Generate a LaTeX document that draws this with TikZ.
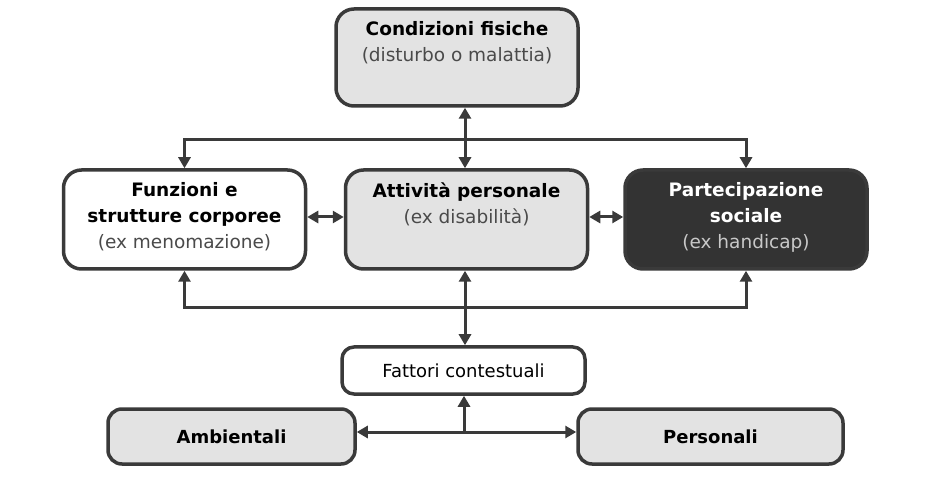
\documentclass[tikz,border=0pt]{standalone}
\usepackage{fontspec}
\setmainfont{DejaVu Sans}
\usetikzlibrary{arrows.meta}
\definecolor{lightbox}{HTML}{E3E3E3}
\definecolor{darkbox}{HTML}{333333}
\definecolor{edgecol}{HTML}{3A3A3A}
\definecolor{subtext}{HTML}{4A4A4A}
\definecolor{darksub}{HTML}{C8C8C8}
\begin{document}
\begin{tikzpicture}[x=1pt,y=-1pt,
  box/.style={draw=edgecol, line width=3.5pt, rounded corners=18pt, inner sep=0pt},
  bigbox/.style={box, minimum width=242pt, minimum height=99pt},
  lowbox/.style={box, rounded corners=14pt, minimum height=55pt, font=\fontsize{18}{26}\selectfont\bfseries},
  txt/.style={anchor=north, inner sep=0pt, align=center, font=\fontsize{18.5}{26}\selectfont},
  link/.style={draw=edgecol, line width=3pt},
  tip/.tip={Triangle[length=11pt,width=12pt]}
]
\fill[white] (0,0) rectangle (932,478);
\useasboundingbox (0,0) rectangle (932,478);

% boxes
\node[bigbox, fill=lightbox, minimum height=97pt] (cond) at (457,57.5) {};
\node[bigbox, fill=white] (funz) at (184.5,219.5) {};
\node[bigbox, fill=lightbox] (att) at (466.5,219.5) {};
\node[bigbox, fill=darkbox] (part) at (746,219.5) {};

\node[txt] (condt) at ([yshift=-14pt]cond.north) {\bfseries Condizioni fisiche\\\textcolor{subtext}{(disturbo o malattia)}};
\node[txt] (funzt) at ([yshift=-14pt]funz.north) {\bfseries Funzioni e\\\bfseries strutture corporee\\\textcolor{subtext}{(ex menomazione)}};
\node[txt] (attt) at ([yshift=-14pt]att.north) {\bfseries Attività personale\\\textcolor{subtext}{(ex disabilità)}};
\node[txt, text=white] (partt) at ([yshift=-14pt]part.north) {\bfseries Partecipazione\\\bfseries sociale\\\textcolor{darksub}{(ex handicap)}};

\node[box, rounded corners=12pt, fill=white, minimum width=243pt, minimum height=47pt, font=\fontsize{18}{26}\selectfont] (fatt) at (463.5,370.5) {Fattori contestuali};
\node[lowbox, fill=lightbox, minimum width=247pt] (amb) at (231.5,436.5) {Ambientali};
\node[lowbox, fill=lightbox, minimum width=265pt] (pers) at (710.5,436.5) {Personali};

% connectors
\coordinate (topbar) at (465,140);
\coordinate (botbar) at (465,308);
\coordinate (junc) at (464,432);

\draw[link, tip-tip] (cond.south -| topbar) -- (att.north -| topbar);
\draw[link, tip-tip] (funz.north) |- (topbar) -| (part.north);
\draw[link, tip-tip] (funz.south) |- (botbar) -| (part.south);
\draw[link, tip-tip] (att.south -| botbar) -- (fatt.north -| botbar);
\draw[link, tip-tip] ([yshift=2.5pt]funz.east) -- ([yshift=2.5pt]att.west);
\draw[link, tip-tip] ([yshift=2.5pt]att.east) -- ([yshift=2.5pt]part.west);
\draw[link, -tip] (junc) -- (fatt.south -| junc);
\draw[link, tip-tip] (amb.east |- junc) -- (pers.west |- junc);
\end{tikzpicture}
\end{document}
